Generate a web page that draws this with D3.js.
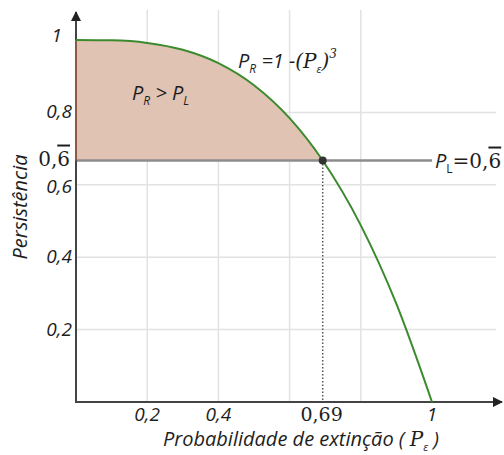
<!DOCTYPE html>
<html lang="pt">
<head>
<meta charset="UTF-8">
<title>Persistência vs probabilidade de extinção</title>
<script src="https://d3js.org/d3.v7.min.js"></script>
<style>
  html, body { margin: 0; padding: 0; background: #fff; }
  svg text { font-family: "Open Sans", "Noto Sans", sans-serif; fill: #1e1e1e; }
  .it { font-style: italic; }
  .serif { font-family: "DejaVu Serif", "Liberation Serif", serif; }
</style>
</head>
<body>
<div id="chart"></div>
<script>
// values
const curveX = [0, 0.1, 0.2, 0.3, 0.4, 0.5, 0.6, 0.693, 0.8, 0.9, 1];
const curveY = [1, 0.999, 0.992, 0.973, 0.936, 0.875, 0.784, 0.667, 0.488, 0.271, 0];
const persistL = 0.667;
const crossX = 0.693;
const xGrid = [0.2, 0.4, 0.6, 0.8];
const yGrid = [0.2, 0.4, 0.6, 0.8];
const xTicks = [0.2, 0.4, 0.69, 1];
const xTickLabels = ["0,2", "0,4", "0,69", "1"];
const yTicks = [0.2, 0.4, 0.6, 0.8, 1];
const yTickLabels = ["0,2", "0,4", "0,6", "0,8", "1"];

const width = 504, height = 455;
const x = d3.scaleLinear().domain([0, 1]).range([76, 432]);
const y = d3.scaleLinear().domain([0, 1]).range([402, 40]);

const svg = d3.select("#chart").append("svg")
  .attr("width", width).attr("height", height);

const pts = curveX.map((d, i) => ({ x: d, y: curveY[i] }));

// grid
svg.append("g").selectAll("line").data(xGrid).join("line")
  .attr("x1", d => x(d)).attr("x2", d => x(d))
  .attr("y1", 10).attr("y2", y(0))
  .attr("stroke", "#e2e2e2").attr("stroke-width", 1.5);
svg.append("g").selectAll("line").data(yGrid).join("line")
  .attr("x1", x(0)).attr("x2", 496)
  .attr("y1", d => y(d)).attr("y2", d => y(d))
  .attr("stroke", "#e2e2e2").attr("stroke-width", 1.5);

// shaded region P_R > P_L
const area = d3.area()
  .x(d => x(d.x)).y0(y(persistL)).y1(d => y(d.y))
  .curve(d3.curveMonotoneX);
svg.append("path")
  .datum(pts.filter(d => d.x <= crossX))
  .attr("d", area)
  .attr("fill", "#dfc0b0")
  .attr("fill-opacity", 0.95)
  .attr("stroke", "none");

// P_L line
svg.append("line")
  .attr("x1", x(0)).attr("x2", x(1))
  .attr("y1", y(persistL)).attr("y2", y(persistL))
  .attr("stroke", "#8c8c8c").attr("stroke-width", 2.5);

// dotted drop line
svg.append("line")
  .attr("x1", x(crossX)).attr("x2", x(crossX))
  .attr("y1", y(persistL)).attr("y2", y(0))
  .attr("stroke", "#555").attr("stroke-width", 1.5)
  .attr("stroke-dasharray", "1.5,2");

// axes with arrows
svg.append("defs").append("marker")
  .attr("id", "arrow").attr("viewBox", "0 0 10 10")
  .attr("refX", 9).attr("refY", 5)
  .attr("markerWidth", 5).attr("markerHeight", 6)
  .attr("markerUnits", "strokeWidth")
  .attr("orient", "auto")
  .append("path").attr("d", "M0,0 L10,5 L0,10 Z").attr("fill", "#222");

svg.append("line")
  .attr("x1", x(0)).attr("x2", x(0)).attr("y1", y(0) + 1).attr("y2", 12)
  .attr("stroke", "#444").attr("stroke-width", 2)
  .attr("marker-end", "url(#arrow)");
svg.append("line")
  .attr("x1", x(0) - 1).attr("x2", 502).attr("y1", y(0)).attr("y2", y(0))
  .attr("stroke", "#444").attr("stroke-width", 2)
  .attr("marker-end", "url(#arrow)");

// brown edge of the shaded region along the y axis
svg.append("line")
  .attr("x1", x(0)).attr("x2", x(0))
  .attr("y1", y(persistL)).attr("y2", y(1))
  .attr("stroke", "#8a5a44").attr("stroke-width", 2);

// P_R curve
const line = d3.line().x(d => x(d.x)).y(d => y(d.y)).curve(d3.curveMonotoneX);
svg.append("path")
  .datum(pts)
  .attr("d", line)
  .attr("fill", "none")
  .attr("stroke", "#3c8a2e")
  .attr("stroke-width", 2);

// intersection point
svg.append("circle")
  .attr("cx", x(crossX)).attr("cy", y(persistL)).attr("r", 4)
  .attr("fill", "#333");

// tick labels
svg.append("g").selectAll("text").data(xTicks).join("text")
  .attr("class", (d, i) => xTickLabels[i] === "0,69" ? "serif" : "it")
  .attr("x", d => x(d)).attr("y", 421)
  .attr("text-anchor", "middle").attr("font-size", 19)
  .text((d, i) => xTickLabels[i]);

svg.append("g").selectAll("text").data(yTicks).join("text")
  .attr("class", "it")
  .attr("x", d => d === 1 ? 62 : 72).attr("y", d => y(d) + (d === 1 ? 2 : d === 0.6 ? 8 : 6))
  .attr("text-anchor", "end").attr("font-size", 19)
  .text((d, i) => yTickLabels[i]);

// 0,6 with overbar (P_L value)
const sixBar = svg.append("text").attr("class", "serif")
  .attr("x", 70).attr("y", y(persistL) + 5)
  .attr("text-anchor", "end").attr("font-size", 20);
sixBar.append("tspan").text("0,");
sixBar.append("tspan").attr("text-decoration", "overline").text("6");

// axis titles
svg.append("text").attr("class", "it")
  .attr("transform", `translate(27,207) rotate(-90)`)
  .attr("text-anchor", "middle").attr("font-size", 20)
  .text("Persistência");

const xt = svg.append("text").attr("class", "it")
  .attr("x", 301).attr("y", 446)
  .attr("text-anchor", "middle").attr("font-size", 20);
xt.append("tspan").text("Probabilidade de extinção ( ");
xt.append("tspan").attr("class", "serif").text("P");
xt.append("tspan").attr("font-size", 11).attr("dy", 5).text("ε");
xt.append("tspan").attr("dy", -5).text(" )");

// annotations
const a1 = svg.append("text").attr("class", "it")
  .attr("x", 132).attr("y", 100).attr("font-size", 20);
a1.append("tspan").text("P");
a1.append("tspan").attr("font-size", 12).attr("dy", 5).text("R");
a1.append("tspan").attr("dy", -5).text(" > P");
a1.append("tspan").attr("font-size", 12).attr("dy", 5).text("L");

const a2 = svg.append("text").attr("class", "it")
  .attr("x", 238).attr("y", 68).attr("font-size", 20);
a2.append("tspan").text("P");
a2.append("tspan").attr("font-size", 12).attr("dy", 5).text("R");
a2.append("tspan").attr("dy", -5).text(" =1 -");
a2.append("tspan").attr("class", "serif").attr("font-size", 20).text("(P");
a2.append("tspan").attr("font-size", 11).attr("dy", 5).text("ε");
a2.append("tspan").attr("class", "serif").attr("font-size", 20).attr("dy", -5).text(")");
a2.append("tspan").attr("class", "serif").attr("font-size", 12).attr("dy", -10).text("3");

const a3 = svg.append("text").attr("class", "serif")
  .attr("x", 435).attr("y", y(persistL) + 7).attr("font-size", 20);
a3.append("tspan").attr("class", "it").attr("font-family", "Open Sans").text("P");
a3.append("tspan").attr("font-family", "Open Sans").attr("font-size", 12).attr("dy", 5).text("L");
a3.append("tspan").attr("dy", -5).text("=0,");
a3.append("tspan").attr("text-decoration", "overline").text("6");
</script>
</body>
</html>
